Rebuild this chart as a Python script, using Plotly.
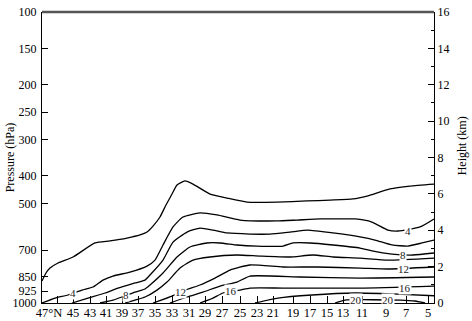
import plotly.graph_objects as go

# x: along-section distance (arbitrary units), y: height (km)
lat_labels = ["47°N", "45", "43", "41", "39", "37", "35", "33", "31", "29", "27",
              "25", "23", "21", "19", "17", "15", "13", "11", "9", "7", "5"]
lat_pos = [7, 31, 48, 64, 80, 96, 113, 130, 147, 163, 180,
           198, 215, 231, 251, 268, 285, 301, 320, 344, 364, 386]
tick_pos = [15, 31, 48, 64, 80, 96, 113, 130, 147, 163, 180,
            198, 215, 231, 251, 268, 285, 301, 320, 344, 364, 386]

p_labels = ["100", "150", "200", "250", "300", "400", "500", "700", "850", "925", "1000"]
p_heights = [16.0, 14.0, 12.0, 10.5, 9.0, 7.0, 5.45, 2.9, 1.45, 0.65, 0.0]

contour_values = [2, 4, 6, 8, 10, 12, 14, 16, 18, 20]

c2_x = [0, 4, 8, 16, 31, 53, 68, 85, 98, 105, 111, 118, 124, 130, 135, 143, 151, 168, 185, 205, 235, 265, 288, 311, 325, 348, 368, 392]
c2_h = [1.21, 1.65, 1.92, 2.20, 2.53, 3.30, 3.41, 3.57, 3.74, 3.90, 4.23, 4.73, 5.39, 5.99, 6.49, 6.71, 6.54, 5.99, 5.77, 5.55, 5.55, 5.61, 5.66, 5.72, 5.88, 6.27, 6.43, 6.54]

c4_x = [0, 13, 26, 40, 51, 61, 71, 88, 105, 113, 121, 131, 141, 158, 175, 198, 235, 255, 278, 291, 313, 330, 346, 356, 378, 392]
c4_h = [0, 0.27, 0.44, 0.71, 0.88, 1.26, 1.48, 1.70, 2.03, 2.36, 3.19, 4.18, 4.73, 4.95, 4.84, 4.56, 4.51, 4.56, 4.62, 4.62, 4.62, 4.45, 4.01, 3.96, 4.18, 4.62]

c6_x = [30, 46, 63, 76, 93, 103, 108, 121, 131, 145, 158, 171, 185, 208, 228, 248, 266, 291, 318, 333, 350, 366, 380, 392]
c6_h = [0, 0.27, 0.55, 0.82, 1.10, 1.26, 1.54, 2.36, 3.35, 3.90, 4.12, 4.01, 3.85, 3.79, 3.79, 3.90, 4.01, 3.85, 3.63, 3.46, 3.19, 3.13, 3.30, 3.46]

c8_x = [58, 71, 80, 93, 103, 108, 121, 135, 148, 165, 178, 195, 215, 241, 251, 268, 291, 318, 330, 350, 371, 392]
c8_h = [0, 0.16, 0.33, 0.60, 0.77, 0.99, 1.65, 2.53, 3.08, 3.30, 3.30, 3.19, 3.13, 3.13, 3.30, 3.30, 3.19, 3.02, 2.86, 2.69, 2.64, 2.75]

c10_x = [83, 93, 103, 115, 125, 138, 151, 168, 195, 218, 248, 271, 291, 318, 346, 392]
c10_h = [0, 0.16, 0.33, 0.71, 1.15, 1.92, 2.36, 2.53, 2.64, 2.58, 2.53, 2.64, 2.53, 2.47, 2.36, 2.47]

c12_x = [111, 130, 143, 158, 173, 188, 208, 241, 275, 318, 346, 392]
c12_h = [0, 0.38, 0.71, 0.99, 1.37, 1.81, 2.09, 1.98, 1.98, 1.92, 1.87, 1.98]

c14_x = [128, 145, 161, 178, 195, 208, 258, 318, 392]
c14_h = [0, 0.33, 0.60, 0.93, 1.15, 1.48, 1.43, 1.37, 1.43]

c16_x = [158, 171, 181, 198, 208, 241, 318, 392]
c16_h = [0, 0.27, 0.55, 0.71, 0.82, 0.82, 0.82, 0.93]

c18_x = [213, 236, 270, 313, 350, 392]
c18_h = [0, 0.27, 0.44, 0.55, 0.50, 0.40]

c20_x = [293, 303, 358, 373, 383]
c20_h = [0, 0.16, 0.16, 0.11, 0]

label_text = ["4", "4", "8", "8", "12", "12", "16", "16", "20", "20"]
label_x = [31, 366, 84, 361, 138, 361, 189, 363, 314, 346]
label_h = [0.55, 3.96, 0.44, 2.64, 0.60, 1.87, 0.66, 0.82, 0.19, 0.19]

lines_x = [c2_x, c4_x, c6_x, c8_x, c10_x, c12_x, c14_x, c16_x, c18_x, c20_x]
lines_h = [c2_h, c4_h, c6_h, c8_h, c10_h, c12_h, c14_h, c16_h, c18_h, c20_h]

FONT = "Liberation Serif, Times New Roman, serif"
fig = go.Figure()
for v, xs, hs in zip(contour_values, lines_x, lines_h):
    fig.add_trace(go.Scatter(x=xs, y=hs, mode="lines", name=str(v),
                             line=dict(color="black", width=1.3, shape="spline", smoothing=0.5),
                             hoverinfo="skip", showlegend=False))
# invisible traces to activate the right axis and the label axis
fig.add_trace(go.Scatter(x=[0], y=[0], yaxis="y2", mode="markers",
                         marker=dict(opacity=0), showlegend=False, hoverinfo="skip"))
fig.add_trace(go.Scatter(x=[0], y=[0], xaxis="x2", mode="markers",
                         marker=dict(opacity=0), showlegend=False, hoverinfo="skip"))

for t, x, h in zip(label_text, label_x, label_h):
    fig.add_annotation(x=x, y=h, text=t, showarrow=False, bgcolor="white",
                       font=dict(family=FONT, size=11, color="#222222"), borderpad=0)

fig.add_annotation(xref="paper", yref="paper", x=-0.082, y=0.50, xanchor="center", yanchor="middle",
                   text="Pressure (hPa)", textangle=-90, showarrow=False,
                   font=dict(family=FONT, size=12, color="black"))
fig.add_annotation(xref="paper", yref="paper", x=1.07, y=0.54, xanchor="center", yanchor="middle",
                   text="Height (km)", textangle=-90, showarrow=False,
                   font=dict(family=FONT, size=12, color="black"))

fig.add_shape(type="line", xref="paper", yref="paper", x0=0, x1=1, y0=1, y1=1,
              line=dict(color="#555555", width=2.5))

fig.update_layout(
    width=472, height=321,
    margin=dict(l=42, r=38, t=12, b=18, autoexpand=False),
    paper_bgcolor="white", plot_bgcolor="white",
    font=dict(family=FONT, size=12, color="black"),
    # tick marks
    xaxis=dict(range=[0, 392], tickmode="array", tickvals=tick_pos, showticklabels=False,
               ticks="inside", ticklen=7, tickwidth=1, tickcolor="black",
               showline=True, linecolor="black", linewidth=1.2, showgrid=False,
               zeroline=False, automargin=False),
    # tick labels
    xaxis2=dict(range=[0, 392], overlaying="x", side="bottom", tickmode="array",
                tickvals=lat_pos, ticktext=lat_labels, tickangle=0, ticks="",
                showline=False, showgrid=False, zeroline=False, automargin=False,
                tickfont=dict(family=FONT, size=12.5)),
    yaxis=dict(range=[0, 16], tickmode="array", tickvals=p_heights, ticktext=p_labels,
               ticks="inside", ticklen=6, tickwidth=1, tickcolor="black",
               showline=True, linecolor="black", linewidth=1.2, showgrid=False,
               zeroline=False, tickfont=dict(family=FONT, size=12), automargin=False,
               ticklabelstandoff=2),
    yaxis2=dict(range=[0, 16], overlaying="y", side="right", dtick=2,
                ticks="inside", ticklen=6, tickwidth=1, tickcolor="black",
                minor=dict(dtick=1, ticks="inside", ticklen=3, tickcolor="black"),
                showline=True, linecolor="black", linewidth=1.2, showgrid=False,
                zeroline=False, tickfont=dict(family=FONT, size=12), automargin=False),
)
fig.write_html("out.html", config={"displayModeBar": False},
               post_script="document.body.style.margin='0';")
